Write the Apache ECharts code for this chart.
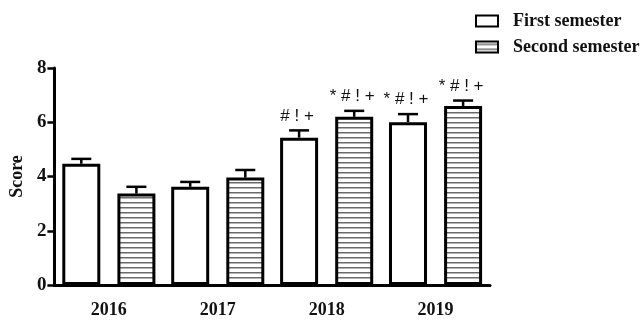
<!DOCTYPE html>
<html>
<head>
<meta charset="utf-8">
<script src="https://cdn.jsdelivr.net/npm/echarts@6/dist/echarts.min.js"></script>
<style>
  html, body { margin: 0; padding: 0; background: #fff; }
  #chart { width: 644px; height: 320px; }
</style>
</head>
<body>
<div id="chart"></div>
<script>
// Score by year and semester (mean with upper error bar)
const years = ['2016', '2017', '2018', '2019'];
const firstSemester = [4.47, 3.62, 5.43, 6.0];
const firstSemesterErr = [0.18, 0.18, 0.27, 0.3];
const secondSemester = [3.37, 3.96, 6.2, 6.6];
const secondSemesterErr = [0.25, 0.28, 0.22, 0.2];
const firstMarks = ['', '', '# ! +', '* # ! +'];
const secondMarks = ['', '', '* # ! +', '* # ! +'];
const yTicks = { min: 0, max: 8, interval: 2 };

const SERIF = 'Liberation Serif, Times New Roman, serif';
const BAR_W = 38;
const GAP_PCT = 45; // barGap in % of bar width
const HALF_STEP = (BAR_W + BAR_W * GAP_PCT / 100) / 2;

// horizontal stripe fill for the second semester
function stripeCanvas() {
  const c = document.createElement('canvas');
  c.width = 6; c.height = 5;
  const ctx = c.getContext('2d');
  ctx.fillStyle = '#ffffff';
  ctx.fillRect(0, 0, 6, 5);
  ctx.fillStyle = '#6a6a6a';
  ctx.fillRect(0, 2, 6, 1.5);
  return c;
}
const stripes = { image: stripeCanvas(), repeat: 'repeat' };

function errorItems(values, errs, marks, side) {
  return values.map((v, i) => [i, v, errs[i], side, marks[i]]);
}

function renderError(params, api) {
  const idx = api.value(0);
  const v = api.value(1);
  const e = api.value(2);
  const side = api.value(3);
  const base = api.coord([idx, v]);
  const top = api.coord([idx, v + e]);
  const x = base[0] + side * HALF_STEP;
  const cap = 10;
  const children = [
    { type: 'line', shape: { x1: x, y1: base[1], x2: x, y2: top[1] },
      style: { stroke: '#000', lineWidth: 2.5 } },
    { type: 'line', shape: { x1: x - cap, y1: top[1], x2: x + cap, y2: top[1] },
      style: { stroke: '#000', lineWidth: 2.5 } }
  ];
  const mark = api.value(4);
  if (mark) {
    children.push({
      type: 'text',
      style: {
        text: mark, x: x - 2, y: top[1] - 6,
        textAlign: 'center', textVerticalAlign: 'bottom',
        font: '17px Liberation Sans, Arial, sans-serif', fill: '#111'
      }
    });
  }
  return { type: 'group', children: children };
}

const chart = echarts.init(document.getElementById('chart'), null, { renderer: 'canvas' });
chart.setOption({
  animation: false,
  backgroundColor: '#fff',
  grid: { left: 50, right: 154, top: 68, bottom: 35 },
  legend: {
    orient: 'vertical',
    left: 475, top: 12,
    padding: 0,
    icon: 'rect',
    itemWidth: 22, itemHeight: 11, itemGap: 8,
    data: ['First semester', 'Second semester'],
    textStyle: {
      fontFamily: SERIF, fontWeight: 'bold', fontSize: 18, color: '#111',
      padding: [0, 0, 0, 10]
    }
  },
  xAxis: {
    type: 'category',
    data: years,
    axisLine: { lineStyle: { color: '#000', width: 3 } },
    axisTick: { show: false },
    axisLabel: { fontFamily: SERIF, fontWeight: 'bold', fontSize: 18, color: '#111', margin: 16 }
  },
  yAxis: {
    type: 'value',
    min: yTicks.min, max: yTicks.max, interval: yTicks.interval,
    name: 'Score',
    nameLocation: 'middle',
    nameGap: 28,
    nameTextStyle: { fontFamily: SERIF, fontWeight: 'bold', fontSize: 18, color: '#111' },
    splitLine: { show: false },
    axisLine: { show: true, lineStyle: { color: '#000', width: 3 } },
    axisTick: { show: true, length: 7, lineStyle: { color: '#000', width: 2.5 } },
    axisLabel: { fontFamily: SERIF, fontWeight: 'bold', fontSize: 19, color: '#111', margin: 8 }
  },
  series: [
    {
      name: 'First semester', type: 'bar',
      data: firstSemester,
      barWidth: BAR_W, barGap: GAP_PCT + '%',
      itemStyle: { color: '#fff', borderColor: '#000', borderWidth: 3 }
    },
    {
      name: 'Second semester', type: 'bar',
      data: secondSemester,
      barWidth: BAR_W,
      itemStyle: { color: stripes, borderColor: '#000', borderWidth: 3 }
    },
    {
      type: 'custom', renderItem: renderError, z: 5,
      data: errorItems(firstSemester, firstSemesterErr, firstMarks, -1),
      encode: { x: 0, y: 1 }
    },
    {
      type: 'custom', renderItem: renderError, z: 5,
      data: errorItems(secondSemester, secondSemesterErr, secondMarks, 1),
      encode: { x: 0, y: 1 }
    }
  ]
});
</script>
</body>
</html>
